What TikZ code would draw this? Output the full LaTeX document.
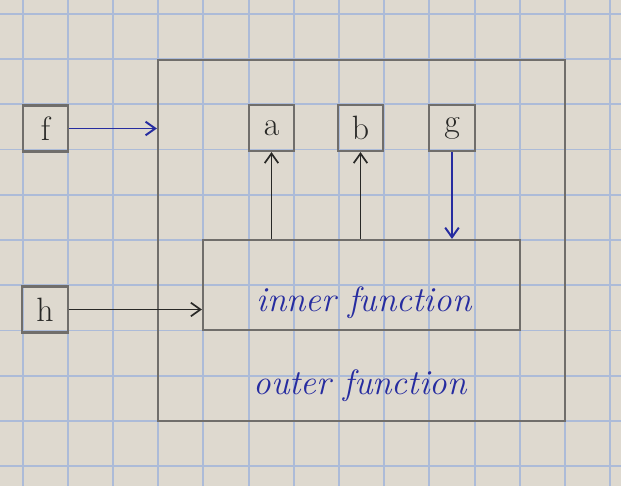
\documentclass[tikz,border=0pt]{standalone}
\usepackage{tikz}
\usetikzlibrary{arrows.meta,calc,positioning}
\definecolor{paper}{RGB}{222,217,207}
\definecolor{gridblue}{RGB}{172,187,216}
\definecolor{pencil}{RGB}{112,110,107}
\definecolor{inkblue}{RGB}{38,44,160}
\definecolor{inkblack}{RGB}{40,40,38}
\tikzset{
  cell/.style={draw=pencil,line width=1.5pt,minimum width=1.13cm,minimum height=1.15cm,inner sep=0pt,text=inkblack,font=\fontsize{24}{26}\selectfont},
  frame/.style={draw=pencil,line width=1.5pt,inner sep=0pt},
  word/.style={text=inkblue,font=\fontsize{25}{27}\selectfont\itshape},
  blackink/.style={draw=inkblack,line width=1.2pt,-{Straight Barb[length=2.4mm,width=3.4mm]}},
  blueink/.style={draw=inkblue,line width=1.4pt,-{Straight Barb[length=2.4mm,width=3.4mm]}}
}
\begin{document}
\begin{tikzpicture}[x=0.025cm,y=-0.025cm]
% paper
\fill[paper] (0,0) rectangle (621,486);
\useasboundingbox (0,0) rectangle (621,486);
\foreach \i in {0,...,13}
  \draw[gridblue,line width=1.3pt] ({22.6+45.2*\i},0) -- ({22.6+45.2*\i},486);
\foreach \j in {-1,...,9}
  \draw[gridblue,line width=1.3pt] (0,{59+45.25*\j}) -- (621,{59+45.25*\j});
% boxes
\node[frame,minimum width=10.175cm,minimum height=9.025cm] (outer) at (361.5,240.5) {};
\node[frame,minimum width=7.925cm,minimum height=2.25cm] (inner) at (361.5,285) {};
\node[cell] (f) at (45.5,128.5) {f};
\node[cell] (h) at (45,309.5) {h};
\node[cell] (a) at (271.5,128) {a};
\node[cell] (b) at (360.5,128) {b};
\node[cell] (g) at (452,128) {g};
\node[word] (innertext) at (364,303) {inner function};
\node[word] (outertext) at (360,386) {outer function};
% arrows
\draw[blueink] (f.east) -- (f.east -| outer.west);
\draw[blackink] (h.east) -- (h.east -| inner.west);
\draw[blackink] (a |- inner.north) -- (a.south);
\draw[blackink] (b |- inner.north) -- (b.south);
\draw[blueink] (g.south) -- (g |- inner.north);
\end{tikzpicture}
\end{document}
